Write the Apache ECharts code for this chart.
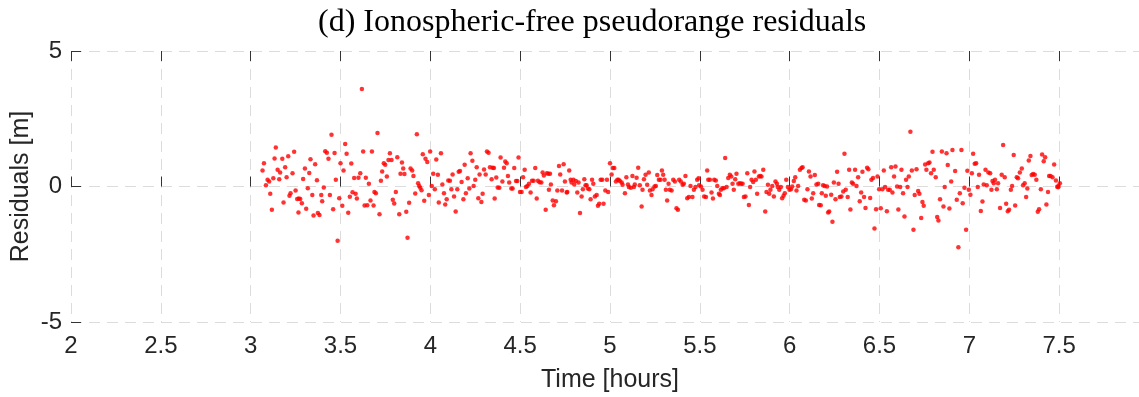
<!DOCTYPE html>
<html>
<head>
<meta charset="utf-8">
<script src="https://cdn.jsdelivr.net/npm/echarts@6/dist/echarts.min.js"></script>
<style>
  html, body { margin: 0; padding: 0; background: #fff; }
  #main { width: 1139px; height: 397px; }
</style>
</head>
<body>
<div id="main"></div>
<script>
var chartTitle = '(d) Ionospheric-free pseudorange residuals';
var xName = 'Time [hours]';
var yName = 'Residuals [m]';

// time of each residual [hours]
var timeHours = [
    3.066,3.074,3.085,3.094,3.103,3.109,3.118,3.126,3.133,3.140,
    3.150,3.159,3.164,3.176,3.183,3.192,3.200,3.209,3.216,3.222,
    3.233,3.242,3.250,3.259,3.268,3.276,3.266,3.285,3.292,3.302,
    3.309,3.318,3.326,3.333,3.343,3.350,3.359,3.369,3.374,3.383,
    3.393,3.398,3.407,3.415,3.424,3.433,3.441,3.450,3.459,3.467,
    3.474,3.484,3.493,3.500,3.510,3.517,3.526,3.534,3.543,3.552,
    3.560,3.567,3.576,3.584,3.591,3.600,3.610,3.619,3.626,3.634,
    3.641,3.649,3.658,3.667,3.675,3.684,3.689,3.697,3.706,3.717,
    3.725,3.732,3.741,3.749,3.758,3.767,3.775,3.784,3.791,3.799,
    3.808,3.816,3.827,3.834,3.842,3.849,3.856,3.866,3.873,3.882,
    3.890,3.899,3.906,3.916,3.925,3.932,3.938,3.944,3.951,3.958,
    3.966,3.973,3.983,3.992,3.999,4.008,4.016,4.025,4.033,4.042,
    4.047,
    4.059,4.067,4.076,4.083,4.091,4.100,4.109,4.117,4.124,4.132,
    4.141,4.150,4.158,4.165,4.174,4.184,4.191,4.198,4.208,4.217,
    4.224,4.234,4.241,4.250,4.258,4.267,4.274,4.284,4.291,4.299,
    4.308,4.315,4.324,4.332,4.341,4.347,4.354,4.358,4.367,4.375,
    4.384,4.391,4.401,4.410,4.417,4.425,4.432,4.439,4.451,4.458,
    4.467,4.477,4.484,4.491,4.499,4.508,4.516,4.525,4.532,4.540,
    4.549,4.558,4.566,4.575,4.584,4.592,4.599,4.608,4.618,4.625,
    4.632,4.642,4.649,4.657,4.660,4.666,4.671,4.681,4.688,4.699,
    4.707,4.716,4.723,4.733,4.742,4.749,4.759,4.762,4.773,4.781,
    4.786,4.796,4.801,4.810,4.818,4.825,4.833,4.842,4.849,4.857,
    4.864,4.870,4.877,4.885,4.892,4.900,4.907,4.916,4.926,4.933,
    4.940,4.948,4.957,4.964,4.974,4.983,4.990,5.000,5.009,5.016,
    5.024,5.033,5.041,5.048,5.055,5.065,5.070,5.083,5.091,5.100,
    5.105,
    5.116,5.125,5.133,5.138,5.148,5.157,5.166,5.176,5.181,5.189,
    5.198,5.207,5.216,5.222,5.231,5.237,5.248,5.255,5.263,5.272,
    5.281,5.289,5.296,5.304,5.311,5.318,5.326,5.333,5.343,5.352,
    5.361,5.370,5.378,5.385,5.394,5.404,5.411,5.420,5.430,5.439,
    5.448,5.459,5.467,5.476,5.485,5.493,5.496,5.506,5.515,5.524,
    5.534,5.541,5.547,5.556,5.565,5.573,5.580,5.589,5.597,5.606,
    5.612,5.617,5.626,5.634,5.641,5.649,5.658,5.667,5.675,5.682,
    5.689,5.697,5.704,5.714,5.723,5.730,5.738,5.745,5.754,5.764,
    5.773,5.780,5.788,5.797,5.804,5.812,5.819,5.829,5.836,5.843,
    5.853,5.864,5.871,5.879,5.886,5.893,5.903,5.912,5.921,5.929,
    5.934,5.942,5.951,5.958,5.966,5.973,5.981,5.990,5.999,6.007,
    6.014,6.023,6.031,6.038,6.047,6.057,6.066,6.072,6.081,6.090,
    6.099,6.107,6.116,6.123,6.131,6.140,6.149,6.159,6.164,
    6.173,6.179,6.186,6.195,6.201,6.208,6.214,6.220,6.231,6.238,
    6.246,6.255,6.264,6.272,6.279,6.288,6.298,6.305,6.312,6.323,
    6.331,6.338,6.346,6.353,6.364,6.372,6.381,6.390,6.398,6.405,
    6.414,6.422,6.431,6.438,6.448,6.455,6.464,6.472,6.481,6.489,
    6.498,6.507,6.516,6.524,6.531,6.541,6.548,6.557,6.565,6.572,
    6.581,6.589,6.598,6.605,6.615,6.622,6.631,6.639,6.648,6.656,
    6.663,6.672,6.680,6.689,6.696,6.706,6.715,6.722,6.732,6.739,
    6.746,6.754,6.761,6.771,6.778,6.787,6.795,6.802,6.813,6.821,
    6.828,6.837,6.847,6.856,6.863,6.873,6.880,6.889,6.899,6.906,
    6.921,6.930,6.939,6.947,6.956,6.963,6.973,6.982,6.989,6.997,
    7.006,7.014,7.021,7.030,7.038,7.047,7.054,7.064,7.073,7.080,
    7.090,7.097,7.106,7.116,7.123,7.129,7.136,7.143,7.153,7.160,
    7.171,7.180,7.188,7.197,7.205,7.214,7.221,7.231,7.238,7.247,
    7.255,7.264,7.271,7.281,7.292,7.299,7.308,7.316,7.323,7.331,
    7.340,7.347,7.355,7.364,7.373,7.381,7.388,7.398,7.405,7.414,
    7.422,7.429,7.438,7.444,7.452,7.463,7.472,7.482,7.489,7.496,
    7.504,7.495
];

// pseudorange residual [m], same order as timeHours
var residuals = [
    0.59,0.86,0.05,0.25,0.18,-0.27,-0.86,0.30,1.03,1.44,
    0.62,0.27,0.52,1.02,-0.59,0.71,0.34,1.12,-0.34,-0.25,
    0.49,1.28,-0.15,-0.46,-0.44,-0.46,-0.96,-0.62,0.28,0.66,
    -0.82,-0.06,0.50,1.01,-0.31,-1.07,0.82,0.23,-0.98,-1.05,
    -0.31,-0.54,-0.04,1.30,1.25,1.02,-0.31,1.91,-0.84,1.24,
    0.25,-2.00,-0.43,0.86,-0.71,0.59,1.57,1.21,-0.97,-0.38,
    0.85,-0.21,0.31,-0.27,-0.44,0.32,0.49,3.60,1.29,-0.70,
    0.32,-0.69,0.10,-0.52,1.29,-0.70,-0.20,-0.25,1.97,-1.02,
    0.21,0.55,0.86,0.80,0.37,0.98,1.23,0.98,-0.49,-0.63,
    -0.20,1.08,-1.02,0.47,0.89,0.66,0.46,-0.93,-1.89,-0.60,
    0.66,0.59,0.39,-0.26,1.93,0.12,0.02,-0.05,-0.14,1.19,
    -0.53,1.02,0.90,-0.31,1.29,0.02,0.47,-0.10,1.00,0.43,
    -0.59,
    1.23,0.07,-0.25,-0.66,-0.47,0.22,0.21,-0.10,0.44,-0.37,
    -0.92,-0.10,0.54,0.57,0.17,-0.47,0.80,-0.25,0.30,-0.07,
    1.23,0.95,0.02,0.25,0.71,-0.43,0.44,-0.57,-0.27,0.63,
    0.44,1.29,1.25,0.71,0.27,0.69,0.68,-0.44,0.33,-0.04,
    -0.05,1.07,0.18,0.69,0.92,0.86,0.39,0.15,-0.07,-0.07,
    0.68,0.20,0.20,1.07,-0.20,-0.20,0.34,0.62,-0.02,0.02,
    0.10,-0.22,0.21,0.21,0.68,-0.44,0.21,0.16,0.15,0.52,
    0.41,-0.86,0.49,0.47,-0.12,0.47,0.07,-0.52,-0.69,-0.54,
    -0.15,0.76,0.44,-0.15,0.82,0.18,-0.22,-0.20,0.59,0.25,
    0.15,0.25,0.07,0.20,-0.22,0.15,-0.98,-0.37,-0.10,0.27,
    0.05,0.05,-0.07,-0.10,-0.47,0.25,0.10,-0.37,-0.31,-0.71,
    -0.64,0.25,0.25,-0.64,-0.15,0.25,-0.20,0.86,0.44,0.68,
    0.68,0.18,0.25,0.25,0.20,0.15,0.06,-0.25,0.34,0.07,
    -0.02,
    -0.05,0.39,-0.02,0.07,0.32,0.69,0.05,-0.74,-0.12,0.27,
    0.43,0.06,0.52,-0.15,-0.31,-0.10,0.00,0.02,0.42,0.25,
    0.25,0.59,0.43,0.25,-0.12,-0.52,0.10,-0.12,-0.15,0.25,
    0.18,-0.80,-0.86,0.25,0.18,0.06,0.10,0.39,-0.43,-0.39,
    0.02,-0.39,-0.12,-0.02,0.25,0.30,0.05,0.00,-0.12,-0.37,
    -0.39,0.59,0.25,0.25,-0.22,-0.44,0.25,0.22,0.02,-0.27,
    -0.31,-0.12,-0.06,-0.06,1.05,-0.02,0.31,0.43,0.37,0.10,
    -0.12,0.27,0.47,0.10,0.12,0.10,0.10,-0.39,-0.37,0.49,
    -0.68,-0.02,0.25,0.17,0.55,0.25,-0.27,0.37,0.39,0.37,
    0.62,-0.92,-0.20,0.06,-0.27,-0.12,0.02,-0.37,0.18,0.10,
    -0.02,-0.12,-0.02,-0.43,-0.34,-0.25,0.25,-0.02,-0.12,-0.10,
    0.00,0.20,0.34,-0.15,0.02,0.62,0.68,0.71,-0.49,-0.52,
    -0.10,0.55,0.37,-0.44,-0.25,0.42,0.07,0.10,-0.68,
    -0.69,-0.25,0.05,0.02,-0.34,0.00,-0.96,-0.92,-0.30,-1.30,
    0.15,-0.47,0.54,0.10,-0.39,-0.37,-0.18,1.21,-0.12,-0.39,
    0.62,-0.85,0.15,0.10,0.62,0.02,0.34,-0.54,-0.22,0.54,
    -0.39,-0.79,0.69,0.64,-0.42,0.25,0.31,-1.55,-0.84,0.37,
    -0.10,-0.80,-0.10,0.59,-0.02,-0.91,-0.12,-0.12,0.71,-0.22,
    0.37,0.74,0.00,-0.85,-0.02,0.62,-0.25,-1.11,0.25,-0.02,
    0.37,2.02,0.59,-1.60,-0.31,0.64,-0.17,-0.27,-1.16,-0.57,
    -0.71,0.81,0.62,0.86,0.89,0.49,1.28,0.62,0.34,-1.13,
    -1.25,-0.47,1.29,-0.74,-0.02,1.23,0.79,-0.81,0.18,1.35,
    0.57,-0.49,-2.24,-0.25,1.35,-0.62,-0.05,-1.60,0.58,-0.12,
    -0.30,0.49,1.21,0.84,0.86,-0.02,0.43,-0.90,-0.55,0.07,
    0.62,0.05,0.52,0.49,-0.12,0.20,0.12,0.25,-0.10,0.12,
    -0.79,0.43,1.53,0.34,-0.64,-0.91,-0.86,-0.12,0.02,1.16,
    -0.70,0.34,0.30,0.52,0.66,0.05,0.12,-0.39,-0.07,0.96,
    1.13,0.42,0.46,0.43,0.25,-0.93,-0.84,-0.10,1.18,0.93,
    1.08,-0.66,-0.20,0.39,0.39,0.34,0.81,0.22,-0.01,0.02,
    0.12,-0.03
];

var gridDash = { color: '#dcdcdc', type: [11, 7], width: 1 };
var tickStyle = { color: '#333333', width: 1 };
var labelFont = { fontFamily: 'Liberation Sans', fontSize: 24, color: '#262626' };

function drawChart() {
    var myChart = echarts.init(document.getElementById('main'));
    var points = timeHours.map(function(t, i) { return [t, residuals[i]]; });

    var option = {
        animation: false,
        backgroundColor: '#ffffff',
        title: {
            text: chartTitle,
            left: 313,
            top: 2,
            textStyle: {
                fontFamily: 'Liberation Serif',
                fontSize: 32,
                fontWeight: 'normal',
                color: '#000000'
            }
        },
        // the axes run to 8 h; the right end is cut off by the canvas
        grid: { left: 71, right: -10, top: 51, bottom: 75, outerBoundsMode: 'none' },
        xAxis: [{
            type: 'value',
            min: 2,
            max: 8,
            interval: 0.5,
            name: xName,
            nameLocation: 'middle',
            nameGap: 46,
            nameMoveOverlap: false,
            nameTextStyle: { fontFamily: 'Liberation Sans', fontSize: 25, color: '#262626' },
            axisLine: { show: false },
            axisTick: { show: true, inside: true, length: 10, lineStyle: tickStyle },
            axisLabel: Object.assign({ margin: 12 }, labelFont),
            splitLine: { show: true, lineStyle: gridDash }
        }, {
            type: 'value',
            position: 'top',
            min: 2,
            max: 8,
            interval: 0.5,
            axisLine: { show: false },
            axisTick: { show: true, inside: true, length: 10, lineStyle: tickStyle },
            axisLabel: { show: false },
            splitLine: { show: false }
        }],
        yAxis: {
            type: 'value',
            min: -5,
            max: 5,
            interval: 5,
            name: yName,
            nameLocation: 'middle',
            nameRotate: 90,
            nameGap: 37,
            nameMoveOverlap: false,
            nameTextStyle: { fontFamily: 'Liberation Sans', fontSize: 25, color: '#262626' },
            axisLine: { show: false },
            axisTick: { show: true, inside: true, length: 10, lineStyle: tickStyle },
            axisLabel: Object.assign({ margin: 9 }, labelFont),
            splitLine: { show: true, lineStyle: gridDash }
        },
        series: [{
            type: 'scatter',
            xAxisIndex: 0,
            data: points,
            symbol: 'circle',
            symbolSize: 4.5,
            itemStyle: { color: '#ff0000' }
        }]
    };
    myChart.setOption(option);
}

drawChart();
</script>
</body>
</html>
